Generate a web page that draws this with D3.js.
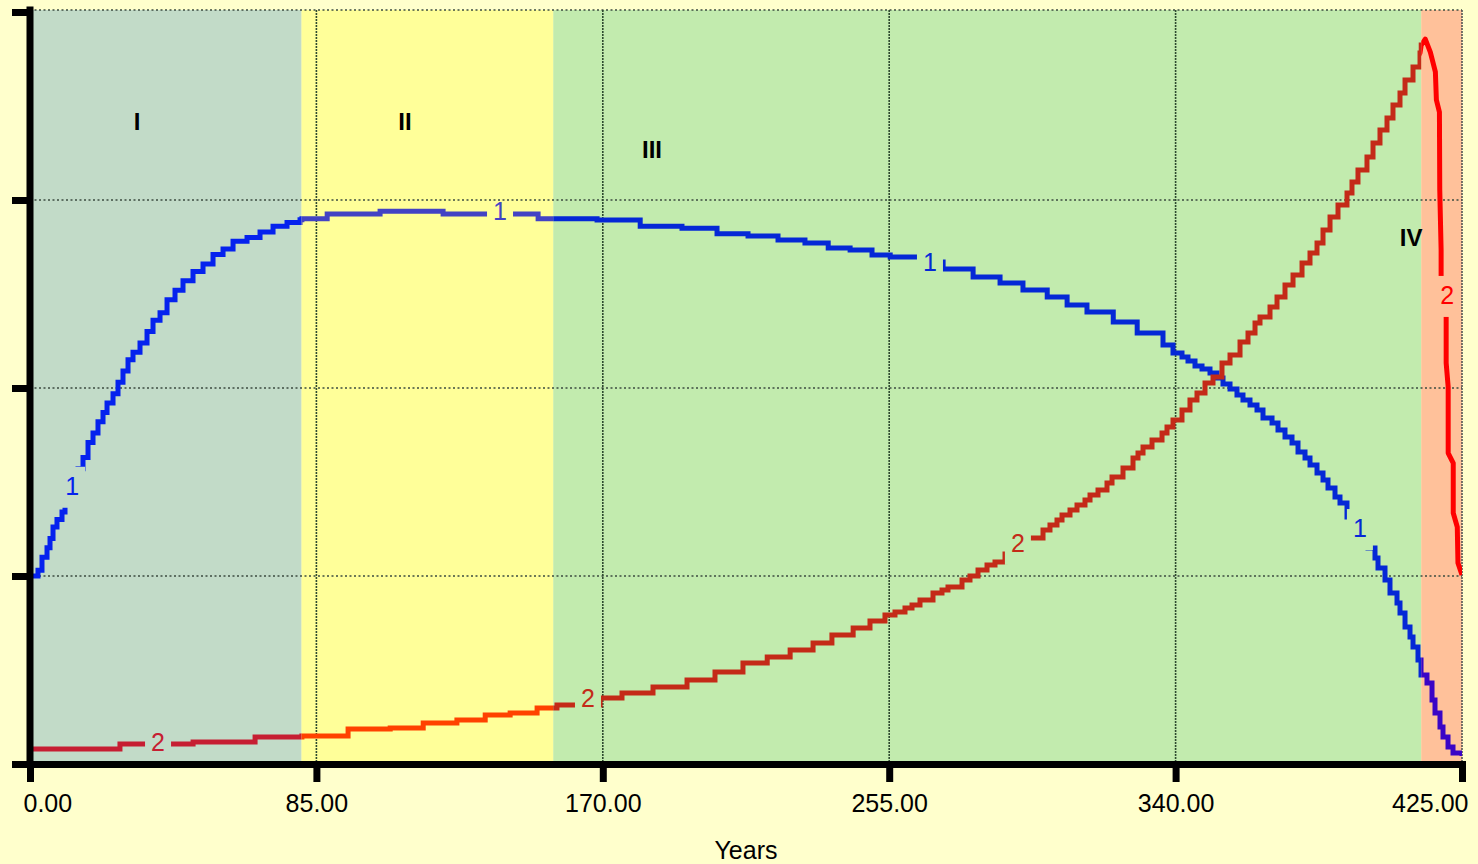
<!DOCTYPE html>
<html>
<head>
<meta charset="utf-8">
<script src="https://cdn.jsdelivr.net/npm/d3@7"></script>
<style>
	body { margin: 0; background: #ffffcc; }
	svg { display: block; }
	text { font-family: "Liberation Sans", Arial, sans-serif; }
</style>
</head>
<body>
<div id="chart"></div>
<script>
// zones of the life cycle
const zoneBreaks = [0, 80.6, 155.3, 412.9, 425];
const zoneNames = ["I", "II", "III", "IV"];
const zoneLabelPos = [[31.8, 3.415], [111.3, 3.415], [184.6, 3.266], [409.9, 2.798]];
const zoneFill = ["#c2dbc8", "#ffff99", "#c2ebae", "#ffc19a"];
const blueColors = ["#0522ee", "#4343c4", "#0528d6", "#3a05c6"];
const redColors = ["#c61e32", "#ff4200", "#c42a18", "#ff0000"];

const xTicks = [0, 85, 170, 255, 340, 425];
const yTicks = [0, 1, 2, 3, 4];

// curve 1 (years, value)
const series1 = [
	[0, 1.0], [2.37, 1.03], [3.56, 1.1], [5.05, 1.15], [5.94, 1.2], [6.83, 1.26],
	[8.01, 1.3], [9.5, 1.34], [10.39, 1.39], [14.25, 1.57], [15.73, 1.63],
	[17.22, 1.71], [18.7, 1.76], [20.18, 1.82], [21.67, 1.87], [22.86, 1.92],
	[24.64, 1.97], [26.12, 2.03], [27.6, 2.09], [29.09, 2.15], [30.57, 2.19],
	[32.65, 2.24], [34.73, 2.3], [36.51, 2.36], [38.59, 2.4], [40.67, 2.47],
	[43.04, 2.52], [45.41, 2.57], [48.38, 2.62], [51.35, 2.66], [54.32, 2.71],
	[57.29, 2.74], [60.26, 2.78], [64.41, 2.8], [68.27, 2.83], [72.13, 2.86],
	[76.28, 2.88], [80.14, 2.895], [80.7, 2.9], [88.2, 2.925], [103.9, 2.94],
	[122.6, 2.925], [150.8, 2.9], [168.3, 2.894], [181.1, 2.86], [193.5, 2.85],
	[203.9, 2.82], [213.1, 2.808], [222.0, 2.787], [230.0, 2.771], [236.9, 2.745],
	[243.4, 2.734], [249.9, 2.707], [255.3, 2.697], [264.2, 2.67], [271.0, 2.633],
	[279.9, 2.59], [287.9, 2.559], [294.7, 2.521], [301.9, 2.484], [307.8, 2.441],
	[313.7, 2.404], [321.5, 2.351], [328.6, 2.293], [336.26, 2.229], [339.23, 2.186],
	[341.9, 2.165], [343.68, 2.144], [345.76, 2.117], [347.84, 2.101], [350.21, 2.08],
	[352.29, 2.053], [354.07, 2.021], [356.15, 1.995], [358.22, 1.963], [360.0, 1.936],
	[362.08, 1.91], [364.16, 1.883], [365.94, 1.84], [368.62, 1.814], [370.39, 1.777],
	[372.47, 1.739], [374.55, 1.707], [376.33, 1.66], [378.41, 1.628], [379.89, 1.59],
	[381.97, 1.548], [383.75, 1.511], [385.23, 1.468], [387.31, 1.42], [388.79, 1.388],
	[390.87, 1.314], [395.62, 1.176], [397.1, 1.149], [399.18, 1.096], [400.07, 1.043],
	[402.15, 0.979], [403.63, 0.91], [405.71, 0.856], [406.6, 0.803], [408.09, 0.729],
	[409.57, 0.676], [410.46, 0.622], [411.94, 0.553], [412.84, 0.473], [414.61, 0.431],
	[416.1, 0.34], [416.99, 0.271], [418.47, 0.197], [419.36, 0.144], [420.85, 0.09],
	[422.33, 0.059], [425.0, 0.043]
];

// curve 2 (years, value)
const series2 = [
	[0, 0.08], [26.7, 0.106], [48.4, 0.117], [66.8, 0.144], [80.7, 0.149],
	[94.4, 0.186], [106.9, 0.191], [116.7, 0.218], [126.7, 0.234], [135.1, 0.261],
	[142.5, 0.271], [150.5, 0.298], [156.4, 0.314], [169.2, 0.351], [175.7, 0.378],
	[184.9, 0.41], [195.0, 0.447], [203.3, 0.489], [211.6, 0.537], [218.8, 0.569],
	[225.6, 0.606], [232.4, 0.644], [238.0, 0.686], [244.3, 0.723], [249.3, 0.761],
	[253.75, 0.793], [256.72, 0.809], [259.69, 0.83], [261.77, 0.846], [264.14, 0.872],
	[268.0, 0.91], [270.67, 0.926], [272.45, 0.941], [276.61, 0.979], [278.98, 1.0],
	[281.36, 1.032], [284.03, 1.059], [286.4, 1.074], [289.37, 1.117], [296.0, 1.202],
	[300.65, 1.245], [302.72, 1.271], [304.8, 1.298], [306.29, 1.324], [308.66, 1.351],
	[310.74, 1.378], [313.11, 1.404], [314.6, 1.431], [316.97, 1.457], [319.64, 1.495],
	[321.13, 1.527], [324.39, 1.574], [327.36, 1.628], [328.84, 1.654], [330.33, 1.686],
	[333.0, 1.723], [335.97, 1.761], [337.45, 1.793], [339.23, 1.83], [341.9, 1.883],
	[344.27, 1.936], [346.35, 1.973], [348.73, 2.027], [351.1, 2.059], [353.77, 2.133],
	[356.15, 2.176], [359.12, 2.245], [361.49, 2.293], [363.57, 2.346], [365.05, 2.378],
	[368.02, 2.431], [370.1, 2.484], [372.47, 2.548], [374.85, 2.601], [377.52, 2.665],
	[379.89, 2.718], [381.97, 2.771], [383.75, 2.84], [385.83, 2.91], [388.2, 2.973],
	[390.87, 3.037], [392.35, 3.096], [394.13, 3.16], [396.8, 3.229], [398.59, 3.303],
	[400.66, 3.372], [402.74, 3.436], [404.52, 3.505], [406.6, 3.569], [408.09, 3.638],
	[410.46, 3.707], [412.54, 3.782], [412.9, 3.824], [414.1, 3.856], [415.6, 3.787],
	[417.1, 3.681], [417.4, 3.532], [418.3, 3.468], [418.4, 3.053], [418.8, 2.734],
	[418.8, 2.585], [420.3, 2.415], [420.3, 2.133], [420.9, 2.005], [420.9, 1.654],
	[422.4, 1.601], [422.4, 1.335], [423.6, 1.261], [423.8, 1.069], [425.0, 1.005]
];

// inline curve labels (years, value)
const labels1 = [[12.5, 1.48], [139.5, 2.94], [267.1, 2.67], [394.7, 1.255]];
const labels2 = [[38.0, 0.117], [165.6, 0.351], [293.2, 1.176], [420.6, 2.495]];

const width = 1478;
const height = 864;
const plotTop = 10;

const svg = d3
	.select("#chart")
	.append("svg")
	.attr("width", width)
	.attr("height", height);

svg.append("rect").attr("width", width).attr("height", height).attr("fill", "#ffffcc");

const x = d3.scaleLinear().domain([0, 425]).range([30, 1462]);
const y = d3.scaleLinear().domain([0, 4]).range([764, 12]);

const zoneOf = (yr) => {
	for (let i = 0; i < zoneNames.length; i++) {
		if (yr <= zoneBreaks[i + 1]) return i;
	}
	return zoneNames.length - 1;
};

// zone backgrounds
svg.selectAll("rect.zone")
	.data(zoneNames)
	.enter()
	.append("rect")
	.attr("class", "zone")
	.attr("x", (d, i) => x(zoneBreaks[i]))
	.attr("width", (d, i) => x(zoneBreaks[i + 1]) - x(zoneBreaks[i]))
	.attr("y", plotTop)
	.attr("height", y(0) - plotTop)
	.attr("fill", (d, i) => zoneFill[i]);

// grid
const grid = svg.append("g");
grid.selectAll("line.h")
	.data(yTicks.slice(1))
	.enter()
	.append("line")
	.attr("x1", x(0))
	.attr("x2", x(425))
	.attr("y1", (d) => (d === 4 ? plotTop : y(d)))
	.attr("y2", (d) => (d === 4 ? plotTop : y(d)))
	.attr("stroke", "#3c4c40")
	.attr("stroke-width", 1.5)
	.attr("stroke-dasharray", "2,2.5");

grid.selectAll("line.v")
	.data(xTicks.slice(1))
	.enter()
	.append("line")
	.attr("x1", (d) => x(d))
	.attr("x2", (d) => x(d))
	.attr("y1", plotTop)
	.attr("y2", y(0))
	.attr("stroke", (d) => (d === 425 ? "#555" : "#2e4a30"))
	.attr("stroke-width", 1.6)
	.attr("stroke-dasharray", "2,1");

// gaps in the curves behind the labels
const defs = svg.append("defs");
const mask = defs.append("mask").attr("id", "gaps").attr("maskUnits", "userSpaceOnUse");
mask.append("rect").attr("width", width).attr("height", height).attr("fill", "white");
mask.selectAll("rect.gap")
	.data(labels1.concat(labels2))
	.enter()
	.append("rect")
	.attr("x", (d) => x(d[0]) - 13)
	.attr("y", (d) => y(d[1]) - 19)
	.attr("width", 26)
	.attr("height", 41)
	.attr("fill", "black");

zoneNames.forEach((z, i) => {
	defs.append("clipPath")
		.attr("id", "zone" + i)
		.append("rect")
		.attr("x", x(zoneBreaks[i]))
		.attr("width", x(zoneBreaks[i + 1]) - x(zoneBreaks[i]))
		.attr("y", 0)
		.attr("height", height);
});

const stepLine = d3.line().x((d) => x(d[0])).y((d) => y(d[1])).curve(d3.curveStepAfter);
const plainLine = d3.line().x((d) => x(d[0])).y((d) => y(d[1]));

const lines = svg.append("g").attr("mask", "url(#gaps)");

zoneNames.forEach((z, i) => {
	const g = lines.append("g").attr("clip-path", "url(#zone" + i + ")");
	g.append("path")
		.datum(series1)
		.attr("d", stepLine)
		.attr("fill", "none")
		.attr("stroke", blueColors[i])
		.attr("stroke-width", 5);
	g.append("path")
		.datum(series2)
		.attr("d", i === 3 ? plainLine : stepLine)
		.attr("fill", "none")
		.attr("stroke", redColors[i])
		.attr("stroke-width", 5)
		.attr("stroke-linejoin", i === 3 ? "round" : "miter");
});

// curve labels
svg.selectAll("text.l1")
	.data(labels1)
	.enter()
	.append("text")
	.attr("x", (d) => x(d[0]))
	.attr("y", (d) => y(d[1]))
	.attr("text-anchor", "middle")
	.attr("dominant-baseline", "central")
	.attr("font-size", 25)
	.attr("fill", (d) => blueColors[zoneOf(d[0])])
	.text("1");

svg.selectAll("text.l2")
	.data(labels2)
	.enter()
	.append("text")
	.attr("x", (d) => x(d[0]))
	.attr("y", (d) => y(d[1]))
	.attr("text-anchor", "middle")
	.attr("dominant-baseline", "central")
	.attr("font-size", 25)
	.attr("fill", (d) => redColors[zoneOf(d[0])])
	.text("2");

// zone names
svg.selectAll("text.zn")
	.data(zoneNames)
	.enter()
	.append("text")
	.attr("x", (d, i) => x(zoneLabelPos[i][0]))
	.attr("y", (d, i) => y(zoneLabelPos[i][1]))
	.attr("text-anchor", "middle")
	.attr("dominant-baseline", "central")
	.attr("font-size", 24)
	.attr("font-weight", "bold")
	.attr("fill", "#000")
	.text((d) => d);

// axes
const yAxis = d3.axisLeft(y).tickValues(yTicks).tickSize(18).tickSizeOuter(0).tickFormat("");
const yG = svg.append("g").attr("transform", `translate(${x(0)},0)`).call(yAxis);
yG.select(".domain").attr("stroke-width", 7).attr("stroke-linecap", "square").attr("d", `M0,${plotTop}V${y(0)}`);
yG.selectAll(".tick line").attr("stroke-width", 7);

const xAxis = d3
	.axisBottom(x)
	.tickValues(xTicks)
	.tickSize(18)
	.tickSizeOuter(0)
	.tickPadding(12)
	.tickFormat(d3.format(".2f"));
const xG = svg.append("g").attr("transform", `translate(0,${y(0)})`).call(xAxis);
xG.select(".domain").attr("stroke-width", 7).attr("stroke-linecap", "square");
xG.selectAll(".tick line").attr("stroke-width", 7);
xG.selectAll(".tick text")
	.attr("font-size", 25)
	.attr("font-family", "Liberation Sans, Arial, sans-serif")
	.attr("fill", "#000")
	.attr("text-anchor", (d, i) => (i === 0 ? "start" : i === xTicks.length - 1 ? "end" : "middle"))
	.attr("x", (d, i) => (i === 0 ? -7 : i === xTicks.length - 1 ? 6 : 0));

svg.append("text")
	.attr("x", x(212.5))
	.attr("y", 859)
	.attr("text-anchor", "middle")
	.attr("font-size", 25)
	.attr("fill", "#000")
	.text("Years");
</script>
</body>
</html>
